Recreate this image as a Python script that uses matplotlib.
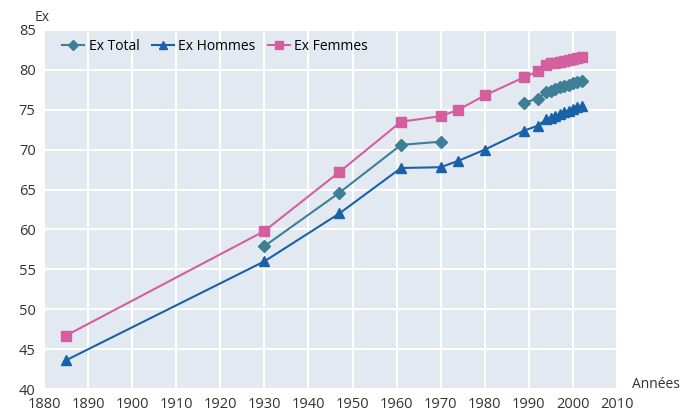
import numpy as np
import matplotlib
matplotlib.use('Agg')
import matplotlib.pyplot as plt

annees = [1885, 1930, 1947, 1961, 1970, 1974, 1980, 1989, 1992,
          1994, 1995, 1996, 1997, 1998, 1999, 2000, 2001, 2002]
ex_total = [np.nan, 57.9, 64.6, 70.6, 71.0, np.nan, np.nan, 75.9, 76.4,
            77.2, 77.4, 77.6, 77.8, 78.0, 78.1, 78.3, 78.5, 78.6]
ex_hommes = [43.6, 56.0, 62.0, 67.7, 67.8, 68.6, 70.0, 72.4, 73.0,
             73.8, 74.0, 74.2, 74.5, 74.7, 74.9, 75.1, 75.3, 75.5]
ex_femmes = [46.7, 59.8, 67.2, 73.5, 74.2, 75.0, 76.8, 79.1, 79.8,
             80.6, 80.8, 80.9, 81.0, 81.1, 81.2, 81.4, 81.5, 81.6]

plt.rcParams['font.family'] = ['Open Sans', 'DejaVu Sans']

fig = plt.figure(figsize=(6.83, 4.17), dpi=100)
ax = fig.add_axes([0.0644, 0.0671, 0.839, 0.861])
ax.set_facecolor('#e2e9f1')

ax.plot(annees, ex_total, color='#3e7f95', marker='D', markersize=6, lw=1.5, label='Ex Total')
ax.plot(annees, ex_hommes, color='#1a62a8', marker='^', markersize=7.5, lw=1.5, label='Ex Hommes')
ax.plot(annees, ex_femmes, color='#d35f9f', marker='s', markersize=7, lw=1.5, label='Ex Femmes')

ax.set_xlim(1880, 2010)
ax.set_ylim(40, 85)
ax.set_xticks(range(1880, 2011, 10))
ax.set_yticks(range(40, 86, 5))
ax.grid(True, color='white', lw=1.5)
ax.set_axisbelow(True)
for s in ax.spines.values():
    s.set_visible(False)
ax.tick_params(length=0, labelsize=10.5, colors='#333333', pad=6)

fig.text(0.05, 0.958, 'Ex', fontsize=10, color='#333333', ha='left', va='center')
fig.text(0.96, 0.077, 'Années', fontsize=10, color='#333333', ha='center', va='center')

ax.legend(loc='upper left', ncol=3, frameon=False, fontsize=10, handlelength=1.6,
          handletextpad=0.3, columnspacing=0.9, markerscale=0.8,
          bbox_to_anchor=(0.01, 1.01))

fig.savefig('out.png', dpi=100)
